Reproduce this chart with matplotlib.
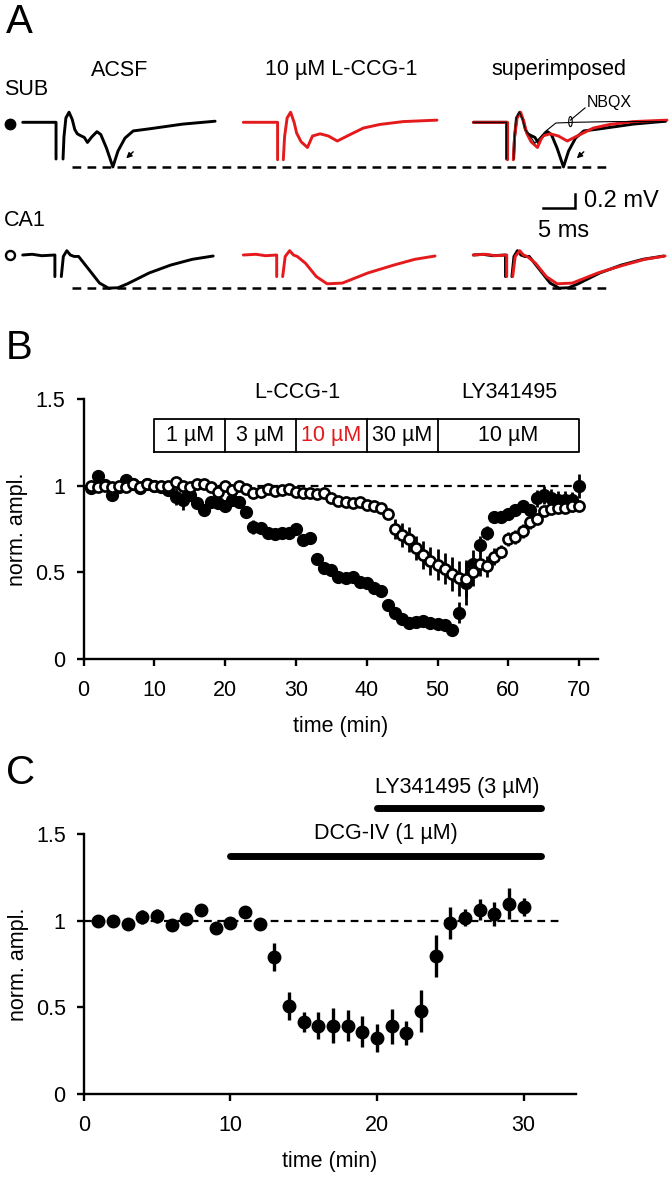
import numpy as np
import matplotlib.pyplot as plt
from matplotlib.patches import Ellipse

plt.rcParams['font.family'] = ['Liberation Sans', 'DejaVu Sans']
plt.rcParams['font.size'] = 15.5

RED = '#e41a1c'
FS = 15.5

# ---------------- panel A: field potential traces (ms, mV) ----------------
# nan splits the trace at the blanked stimulus artifact
sub_acsf_t = [0, 5.25, 5.25, np.nan, 6.35, 6.5, 6.8, 7.3, 7.8, 8.2, 8.6, 9.0, 9.7, 10.2, 10.9,
              11.7, 12.3, 13.2, 14.2, 15.0, 16.1, 17.4, 20.0, 25.2, 30.3]
sub_acsf_v = [0, 0, -0.51, np.nan, -0.51, -0.2, 0.06, 0.14, 0.04, -0.1, -0.16, -0.18, -0.21, -0.28, -0.2,
              -0.13, -0.17, -0.36, -0.62, -0.40, -0.22, -0.12, -0.09, -0.025, 0.015]

sub_lccg_t = [0, 5.4, 5.4, np.nan, 6.3, 6.5, 6.9, 7.45, 8.0, 8.4, 9.1, 10.1, 10.9, 12.1,
              13.4, 14.8, 16.6, 18.9, 21.5, 25.2, 30.5]
sub_lccg_v = [0, 0, -0.52, np.nan, -0.52, -0.2, 0.06, 0.14, 0.0, -0.15, -0.27, -0.35, -0.19, -0.16,
              -0.19, -0.26, -0.18, -0.08, -0.03, 0.01, 0.03]

sub_nbqx_t = [0, 5.25, 5.25, np.nan, 6.35, 6.5, 6.8, 7.3, 7.8, 8.2, 8.6, 9.0, 9.7, 10.4, 11.3,
              13.0, 16.0, 22.0, 30.3]
sub_nbqx_v = [0, 0, -0.51, np.nan, -0.51, -0.2, 0.06, 0.14, 0.04, -0.1, -0.16, -0.2, -0.29, -0.22, -0.13,
              -0.01, 0.0, 0.01, 0.01]

ca1_acsf_t = [0, 1.5, 3.0, 5.07, 5.07, np.nan, 6.08, 6.4, 6.95, 7.5, 8.1, 8.8, 10.5, 12.1,
              13.5, 15.0, 16.5, 19.9, 23.3, 26.7, 30.0]
ca1_acsf_v = [0, 0.01, -0.01, 0, -0.30, np.nan, -0.30, -0.02, 0.06, 0.0, -0.02, -0.02, -0.21, -0.39,
              -0.46, -0.455, -0.40, -0.25, -0.14, -0.06, -0.014]

ca1_lccg_t = [0, 2.0, 3.5, 5.26, 5.26, np.nan, 6.2, 6.6, 7.3, 7.9, 8.5, 9.8, 11.5,
              13.2, 15.6, 19.6, 23.7, 27.0, 30.2]
ca1_lccg_v = [0, 0.01, -0.01, 0, -0.30, np.nan, -0.30, -0.02, 0.06, 0.0, -0.02, -0.115, -0.30,
              -0.40, -0.39, -0.25, -0.14, -0.06, -0.014]

# ---------------- panel B: time course, L-CCG-1 ----------------
time_b = np.arange(1, 71)
sub_b = [0.985, 1.056, 1.004, 0.944, 0.994, 1.03, 1.01, 0.985, 1.01, 1.0,
         0.994, 0.975, 0.937, 0.917, 0.946, 0.90, 0.86, 0.908, 0.90, 0.883,
         0.917, 0.908, 0.85, 0.763, 0.754, 0.725, 0.72, 0.725, 0.729, 0.748,
         0.687, 0.696, 0.575, 0.523, 0.513, 0.475, 0.465, 0.471, 0.446, 0.437,
         0.408, 0.394, 0.31, 0.263, 0.229, 0.206, 0.215, 0.219, 0.206, 0.202,
         0.196, 0.167, 0.267, 0.44, 0.55, 0.66, 0.725, 0.82, 0.82, 0.835,
         0.86, 0.88, 0.86, 0.927, 0.946, 0.93, 0.92, 0.92, 0.915, 1.0]
sub_b_err = [0.02] * 12 + [0.05, 0.06, 0.03] + [0.03] * 8 + [0.04] + [0.02] * 28 + \
            [0.06, 0.13, 0.08, 0.05, 0.04] + [0.03] * 6 + [0.05] * 6 + [0.07]

ca1_b = [1.0, 0.99, 1.0, 0.99, 1.0, 0.99, 1.01, 0.99, 1.01, 1.0,
         1.0, 1.0, 1.02, 1.0, 0.99, 1.01, 1.01, 0.99, 0.965, 1.0,
         0.975, 1.0, 0.98, 0.956, 0.965, 0.98, 0.97, 0.975, 0.98, 0.965,
         0.96, 0.956, 0.95, 0.955, 0.93, 0.91, 0.905, 0.90, 0.905, 0.89,
         0.88, 0.87, 0.835, 0.75, 0.715, 0.69, 0.64, 0.60, 0.565, 0.545,
         0.52, 0.49, 0.465, 0.46, 0.50, 0.55, 0.535, 0.59, 0.62, 0.69,
         0.705, 0.74, 0.79, 0.81, 0.855, 0.865, 0.87, 0.87, 0.88, 0.885]
ca1_b_err = [0.02] * 43 + [0.06, 0.07, 0.07, 0.07, 0.08, 0.08, 0.09, 0.09, 0.1, 0.1,
                           0.1, 0.08, 0.07, 0.06, 0.05] + [0.04] * 5 + [0.03] * 7

box_edges = [10, 20, 30, 40, 50, 70]
box_labels = ['1 µM', '3 µM', '10 µM', '30 µM', '10 µM']
box_colors = ['black', 'black', RED, 'black', 'black']

# ---------------- panel C: DCG-IV ----------------
time_c = np.arange(1, 31)
dcg_c = [1.0, 1.0, 0.98, 1.02, 1.025, 0.975, 1.01, 1.06, 0.96, 0.985,
         1.05, 0.98, 0.79, 0.507, 0.415, 0.395, 0.395, 0.395, 0.36, 0.325,
         0.39, 0.353, 0.48, 0.795, 0.987, 1.017, 1.063, 1.04, 1.098, 1.079]
dcg_c_err = [0.02, 0.01, 0.01, 0.04, 0.04, 0.02, 0.02, 0.01, 0.01, 0.02,
             0.01, 0.03, 0.08, 0.08, 0.06, 0.08, 0.1, 0.09, 0.09, 0.08,
             0.1, 0.07, 0.12, 0.12, 0.09, 0.05, 0.06, 0.07, 0.09, 0.05]

fig = plt.figure(figsize=(6.72, 11.8), dpi=100)

# ====================== A ======================
PX_MS = 6.35   # pixels per ms
PX_MV = 72.0   # pixels per mV
axa = fig.add_axes([0, 1 - 320 / 1180, 1, 320 / 1180])
axa.set_xlim(0, 672 / PX_MS)
axa.set_ylim(-(320 - 122.3) / PX_MV, 122.3 / PX_MV)
axa.axis('off')

x_off = [22.7 / PX_MS, 243.3 / PX_MS, 473.3 / PX_MS]
ca1_base = -132.7 / PX_MV


def trace(t, v, dx, dy, **kw):
    axa.plot(np.array(t) + dx, np.array(v) + dy, solid_joinstyle='round',
             solid_capstyle='round', **kw)


lw = 2.1
trace(sub_acsf_t, sub_acsf_v, x_off[0], 0, color='black', lw=lw)
trace(sub_lccg_t, sub_lccg_v, x_off[1], 0, color=RED, lw=lw)
trace(sub_acsf_t, sub_acsf_v, x_off[2], 0, color='black', lw=lw)
trace(sub_lccg_t, sub_lccg_v, x_off[2], 0, color=RED, lw=lw)
trace(sub_nbqx_t, sub_nbqx_v, x_off[2], 0, color='black', lw=0.8)

trace(ca1_acsf_t, ca1_acsf_v, x_off[0], ca1_base, color='black', lw=lw)
trace(ca1_lccg_t, ca1_lccg_v, x_off[1], ca1_base, color=RED, lw=lw)
trace(ca1_acsf_t, ca1_acsf_v, x_off[2], ca1_base, color='black', lw=lw)
trace(ca1_lccg_t, ca1_lccg_v, x_off[2], ca1_base, color=RED, lw=lw)

# dashed reference lines at the peak amplitudes
axa.plot([72 / PX_MS, 606 / PX_MS], [min(sub_acsf_v[4:])] * 2, color='black', lw=1.8,
         ls=(0, (3.5, 2.5)))
axa.plot([72 / PX_MS, 606 / PX_MS], [ca1_base + min(ca1_acsf_v[6:])] * 2, color='black', lw=1.8,
         ls=(0, (3.5, 2.5)))

# arrows pointing at the late component
for dx in (x_off[0], x_off[2]):
    axa.annotate('', xy=(dx + 16.3, -0.50), xytext=(dx + 17.4, -0.41),
                 arrowprops=dict(arrowstyle='-|>', color='black', lw=1.0,
                                 mutation_scale=8, shrinkA=0, shrinkB=0))

# NBQX label with leader
axa.plot([x_off[2] + 15.3, x_off[2] + 17.6], [0.03, 0.20], color='black', lw=0.8)
axa.add_patch(Ellipse((x_off[2] + 15.3, 0.01), 0.55, 0.14, fill=False, ec='black', lw=0.8))
axa.text(x_off[2] + 17.9, 0.27, 'NBQX', fontsize=11.5, ha='left', va='center')

# scale bar
sb_x, sb_y = 575.2 / PX_MS, -(208.3 - 122.3) / PX_MV
axa.plot([sb_x - 5, sb_x, sb_x], [sb_y, sb_y, sb_y + 0.2], color='black', lw=1.8,
         solid_joinstyle='miter')
axa.text(sb_x + 1.4, sb_y + 0.1, '0.2 mV', fontsize=17, ha='left', va='center')
axa.text(sb_x - 1.8, sb_y - 0.31, '5 ms', fontsize=17, ha='center', va='center')

# titles and row labels
titles = ['ACSF', '10 µM L-CCG-1', 'superimposed']
title_x = [120, 341.6, 558.5]
for tx, tl in zip(title_x, titles):
    axa.text(tx / PX_MS, (122.3 - 70) / PX_MV, tl, ha='center', va='center', fontsize=FS)
axa.text(4 / PX_MS, (122.3 - 89.3) / PX_MV, 'SUB', ha='left', va='center', fontsize=FS)
axa.text(4 / PX_MS, (122.3 - 221) / PX_MV, 'CA1', ha='left', va='center', fontsize=FS)
axa.plot([9.6 / PX_MS], [-0.02], 'o', color='black', ms=7.5)
axa.plot([9.6 / PX_MS], [ca1_base], 'o', mfc='white', mec='black', ms=6.5, mew=1.7)

fig.text(6 / 672, 1 - 22 / 1180, 'A', fontsize=29, ha='left', va='center')


def style_axes(ax, xmax, xticks):
    ax.set_ylim(0, 1.5)
    ax.set_xlim(0, xmax)
    for s in ('top', 'right'):
        ax.spines[s].set_visible(False)
    for s in ('left', 'bottom'):
        ax.spines[s].set_linewidth(1.7)
    ax.set_yticks([0, 0.5, 1, 1.5])
    ax.set_yticklabels(['0', '0.5', '1', '1.5'])
    ax.set_xticks(xticks)
    ax.tick_params(axis='both', direction='out', length=5, width=1.7, labelsize=FS)
    ax.tick_params(axis='x', pad=10)
    ax.tick_params(axis='y', pad=8)
    ax.set_xlabel('time (min)', fontsize=FS, labelpad=11)
    ax.set_ylabel('norm. ampl.', fontsize=FS, labelpad=5)


# ====================== B ======================
axb = fig.add_axes([83.5 / 672, 1 - 659 / 1180, (598.3 - 83.5) / 672, 260 / 1180])
style_axes(axb, 72.7, range(0, 71, 10))
axb.plot([0, 70.5], [1, 1], color='black', lw=1.6, ls=(0, (3.5, 2.5)), zorder=1)
axb.errorbar(time_b, sub_b, yerr=sub_b_err, fmt='o', color='black', ms=8.5,
             elinewidth=2.0, capsize=0, zorder=3, clip_on=False)
axb.errorbar(time_b, ca1_b, yerr=ca1_b_err, fmt='o', color='black', mfc='white', mec='black',
             ms=7.3, mew=1.9, elinewidth=2.0, capsize=0, zorder=4, clip_on=False)

box_lo, box_hi = 1.196, 1.385
axb.plot([box_edges[0], box_edges[-1], box_edges[-1], box_edges[0], box_edges[0]],
         [box_lo, box_lo, box_hi, box_hi, box_lo], color='black', lw=1.3, clip_on=False)
for e in box_edges[1:-1]:
    axb.plot([e, e], [box_lo, box_hi], color='black', lw=1.3, clip_on=False)
for i, (lab, col) in enumerate(zip(box_labels, box_colors)):
    axb.text((box_edges[i] + box_edges[i + 1]) / 2, (box_lo + box_hi) / 2, lab, color=col,
             ha='center', va='center', fontsize=FS, clip_on=False)
axb.text(30.2, 1.537, 'L-CCG-1', ha='center', va='center', fontsize=FS)
axb.text(60.1, 1.537, 'LY341495', ha='center', va='center', fontsize=FS)

fig.text(6 / 672, 1 - 348 / 1180, 'B', fontsize=29, ha='left', va='center')

# ====================== C ======================
axc = fig.add_axes([83.7 / 672, 1 - 1094 / 1180, 33.6 * 14.66 / 672, 260 / 1180])
style_axes(axc, 33.6, range(0, 31, 10))
axc.plot([0, 32.6], [1, 1], color='black', lw=1.6, ls=(0, (3.5, 2.5)), zorder=1)
axc.errorbar(time_c, dcg_c, yerr=dcg_c_err, fmt='o', color='black', ms=9,
             elinewidth=2.4, capsize=0, zorder=3)

axc.plot([10, 31.2], [1.375, 1.375], color='black', lw=5, solid_capstyle='round',
         clip_on=False)
axc.plot([20, 31.2], [1.65, 1.65], color='black', lw=5, solid_capstyle='round',
         clip_on=False)
axc.text(20.6, 1.5, 'DCG-IV (1 µM)', ha='center', va='center', fontsize=FS)
axc.text(25.5, 1.77, 'LY341495 (3 µM)', ha='center', va='center', fontsize=FS)

fig.text(6 / 672, 1 - 773 / 1180, 'C', fontsize=29, ha='left', va='center')

fig.savefig('out.png', dpi=100)
